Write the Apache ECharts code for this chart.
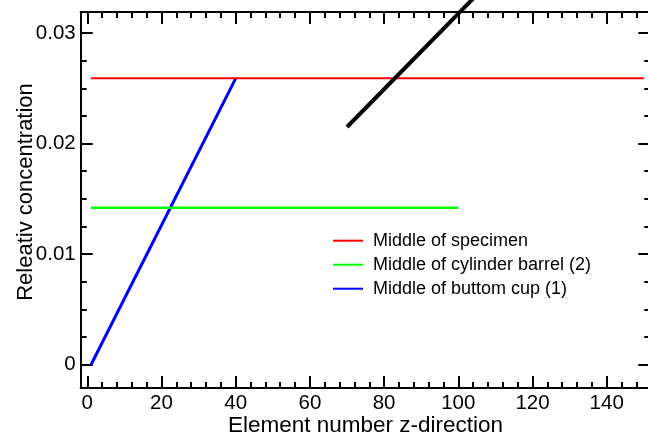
<!DOCTYPE html>
<html><head><meta charset="utf-8">
<script src="https://cdn.jsdelivr.net/npm/echarts@6/dist/echarts.min.js"></script>
<style>html,body{margin:0;padding:0;background:#fff}#c{width:648px;height:436px}</style>
</head><body><div id="c"></div>
<script>
// ---- data ----
const specimenX = [1, 150];
const specimenY = [0.0259, 0.0259];
const barrelX = [1, 100];
const barrelY = [0.0142, 0.0142];
const cupX = [1, 40];
const cupY = [0, 0.0259];
const blackX = [70, 106];
const blackY = [0.0215, 0.0338];
const seriesNames = ['Middle of specimen', 'Middle of cylinder barrel (2)', 'Middle of buttom cup (1)'];
const xMajorTicks = [0, 20, 40, 60, 80, 100, 120, 140];
const xMinorTicks = [4, 8, 12, 16, 24, 28, 32, 36, 44, 48, 52, 56, 64, 68, 72, 76, 84, 88, 92, 96, 104, 108, 112, 116, 124, 128, 132, 136, 144, 148];
const yMajorTicks = [0, 0.01, 0.02, 0.03];
const yMinorTicks = [0.0025, 0.005, 0.0075, 0.0125, 0.015, 0.0175, 0.0225, 0.025, 0.0275];
const xName = 'Element number z-direction';
const yName = 'Releativ concentration';
const X_MIN = -1.78, X_MAX = 151.75, Y_MIN = -0.0021, Y_MAX = 0.0319;

const FONT = 'Liberation Sans';
function zip(xs, ys) { return xs.map((x, i) => [x, ys[i]]); }

function axis(pos, mn, mx, ticks, len, major, label) {
  const a = {
    type: 'value', position: pos, min: mn, max: mx,
    axisLine: { show: major, onZero: false, lineStyle: { color: '#000', width: 2 } },
    axisTick: { show: true, inside: true, length: len, customValues: ticks, lineStyle: { color: '#000', width: 2 } },
    axisLabel: { show: false },
    splitLine: { show: false },
    minorTick: { show: false }
  };
  if (label) {
    a.axisLabel = { show: true, customValues: ticks, margin: 5, color: '#000', fontSize: 20.5, fontFamily: FONT };
  }
  return a;
}

const xBottom = axis('bottom', X_MIN, X_MAX, xMajorTicks, 12, true, true);
xBottom.name = xName;
xBottom.nameLocation = 'middle';
xBottom.nameGap = 26;
xBottom.nameMoveOverlap = false;
xBottom.nameTextStyle = { color: '#000', fontSize: 22.5, fontFamily: FONT };

const yLeft = axis('left', Y_MIN, Y_MAX, yMajorTicks, 12, true, true);
yLeft.name = yName;
yLeft.nameLocation = 'middle';
yLeft.nameGap = 44;
yLeft.nameMoveOverlap = false;
yLeft.nameTextStyle = { color: '#000', fontSize: 22, fontFamily: FONT, padding: [0, 0, 0, 16] };

const option = {
  animation: false,
  backgroundColor: '#fff',
  grid: { left: 80.7, right: -2.3, top: 12, bottom: 48, containLabel: false, outerBoundsMode: 'none' },
  xAxis: [
    xBottom,
    axis('bottom', X_MIN, X_MAX, xMinorTicks, 6, false, false),
    axis('top', X_MIN, X_MAX, xMajorTicks, 12, true, false),
    axis('top', X_MIN, X_MAX, xMinorTicks, 6, false, false)
  ],
  yAxis: [
    yLeft,
    axis('left', Y_MIN, Y_MAX, yMinorTicks, 6, false, false),
    axis('right', Y_MIN, Y_MAX, yMajorTicks, 12, true, false),
    axis('right', Y_MIN, Y_MAX, yMinorTicks, 6, false, false)
  ],
  legend: {
    data: seriesNames,
    orient: 'vertical',
    left: 333, top: 231.7,
    padding: 0,
    icon: 'rect',
    itemWidth: 30, itemHeight: 2, itemGap: 6,
    textStyle: { color: '#000', fontSize: 18, fontFamily: FONT, padding: [0, 0, 0, 5] }
  },
  series: [
    { name: seriesNames[2], type: 'line', symbol: 'none', data: zip(cupX, cupY), color: '#0000ff', lineStyle: { color: '#0000ff', width: 3 } },
    { name: seriesNames[0], type: 'line', symbol: 'none', data: zip(specimenX, specimenY), color: '#ff0000', lineStyle: { color: '#ff0000', width: 2 } },
    { name: seriesNames[1], type: 'line', symbol: 'none', data: zip(barrelX, barrelY), color: '#00ff00', lineStyle: { color: '#00ff00', width: 2.5 } },
    { name: 'annotation', type: 'line', symbol: 'none', clip: false, data: zip(blackX, blackY), color: '#000', lineStyle: { color: '#000', width: 4 } }
  ]
};
const chart = echarts.init(document.getElementById('c'), null, { renderer: 'canvas' });
chart.setOption(option);
</script>
</body></html>
